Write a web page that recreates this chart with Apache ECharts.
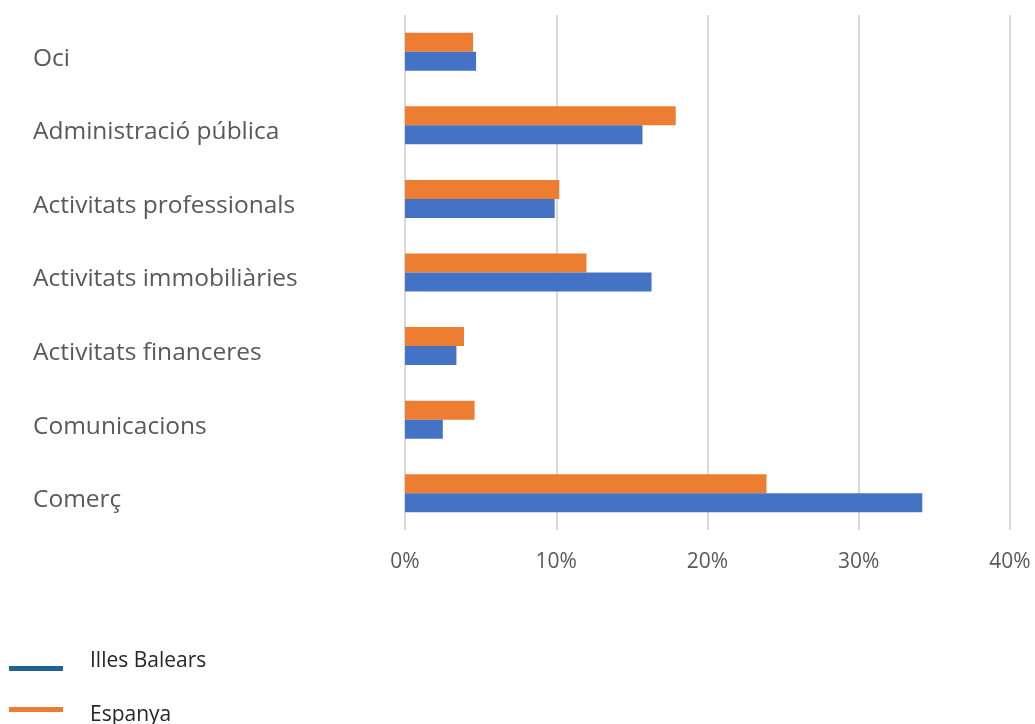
<!DOCTYPE html>
<html>
<head>
<meta charset="utf-8">
<script src="https://cdn.jsdelivr.net/npm/echarts@6/dist/echarts.min.js"></script>
<style>
  html, body { margin: 0; padding: 0; background: #fff; }
  #chart { width: 1035px; height: 724px; }
</style>
</head>
<body>
<div id="chart"></div>
<script>
// categories from bottom to top
const categories = ['Comerç', 'Comunicacions', 'Activitats financeres', 'Activitats immobiliàries',
  'Activitats professionals', 'Administració pública', 'Oci']
const illesBalears = [34.2, 2.5, 3.4, 16.3, 9.9, 15.7, 4.7]
const espanya = [23.9, 4.6, 3.9, 12.0, 10.2, 17.9, 4.5]
const seriesNames = ['Illes Balears', 'Espanya']

const chart = echarts.init(document.getElementById('chart'))

const font = 'Open Sans'

// llegenda: dues peces; la línia de cada icona queda desplaçada respecte del text com a l'original
const legendBase = {
  orient: 'vertical',
  left: 4,
  itemWidth: 54,
  symbolKeepAspect: false
}

chart.setOption({
  animation: false,
  grid: { left: 405, right: 25, top: 15, bottom: 194 },
  legend: [
    Object.assign({}, legendBase, {
      top: 646,
      itemHeight: 19,
      icon: 'path://M0,0L1,0L1,0Z M0,14L54,14L54,19L0,19Z',
      data: [{ name: seriesNames[0], itemStyle: { color: '#1f6391' } }],
      textStyle: { fontFamily: font, fontSize: 21, color: '#262626', padding: [0, 0, 0, 22] }
    }),
    Object.assign({}, legendBase, {
      top: 700,
      itemHeight: 17,
      icon: 'path://M0,0L54,0L54,5L0,5Z M0,17L1,17L1,17Z',
      data: [{ name: seriesNames[1], itemStyle: { color: '#ed7d31' } }],
      textStyle: { fontFamily: font, fontSize: 21, color: '#262626', padding: [0, 0, 0, 22] }
    })
  ],
  xAxis: {
    type: 'value',
    min: 0,
    max: 40,
    interval: 10,
    axisLine: { show: false },
    axisTick: { show: false },
    splitLine: { lineStyle: { color: '#d9d9d9', width: 2 } },
    axisLabel: {
      margin: 22,
      fontFamily: font,
      fontSize: 21,
      color: '#595959',
      formatter: (v) => v + '%'
    }
  },
  yAxis: {
    type: 'category',
    data: categories,
    axisLine: { show: false },
    axisTick: { show: false },
    axisLabel: {
      align: 'left',
      verticalAlign: 'top',
      lineHeight: 14,
      margin: 372,
      fontFamily: font,
      fontSize: 24.5,
      color: '#595959'
    }
  },
  series: [
    {
      name: seriesNames[1],
      type: 'bar',
      data: espanya,
      barWidth: 19,
      barGap: '0%',
      itemStyle: { color: '#ed7d31' }
    },
    {
      name: seriesNames[0],
      type: 'bar',
      data: illesBalears,
      barWidth: 19,
      barGap: '0%',
      itemStyle: { color: '#4472c4' }
    }
  ]
})
</script>
</body>
</html>
